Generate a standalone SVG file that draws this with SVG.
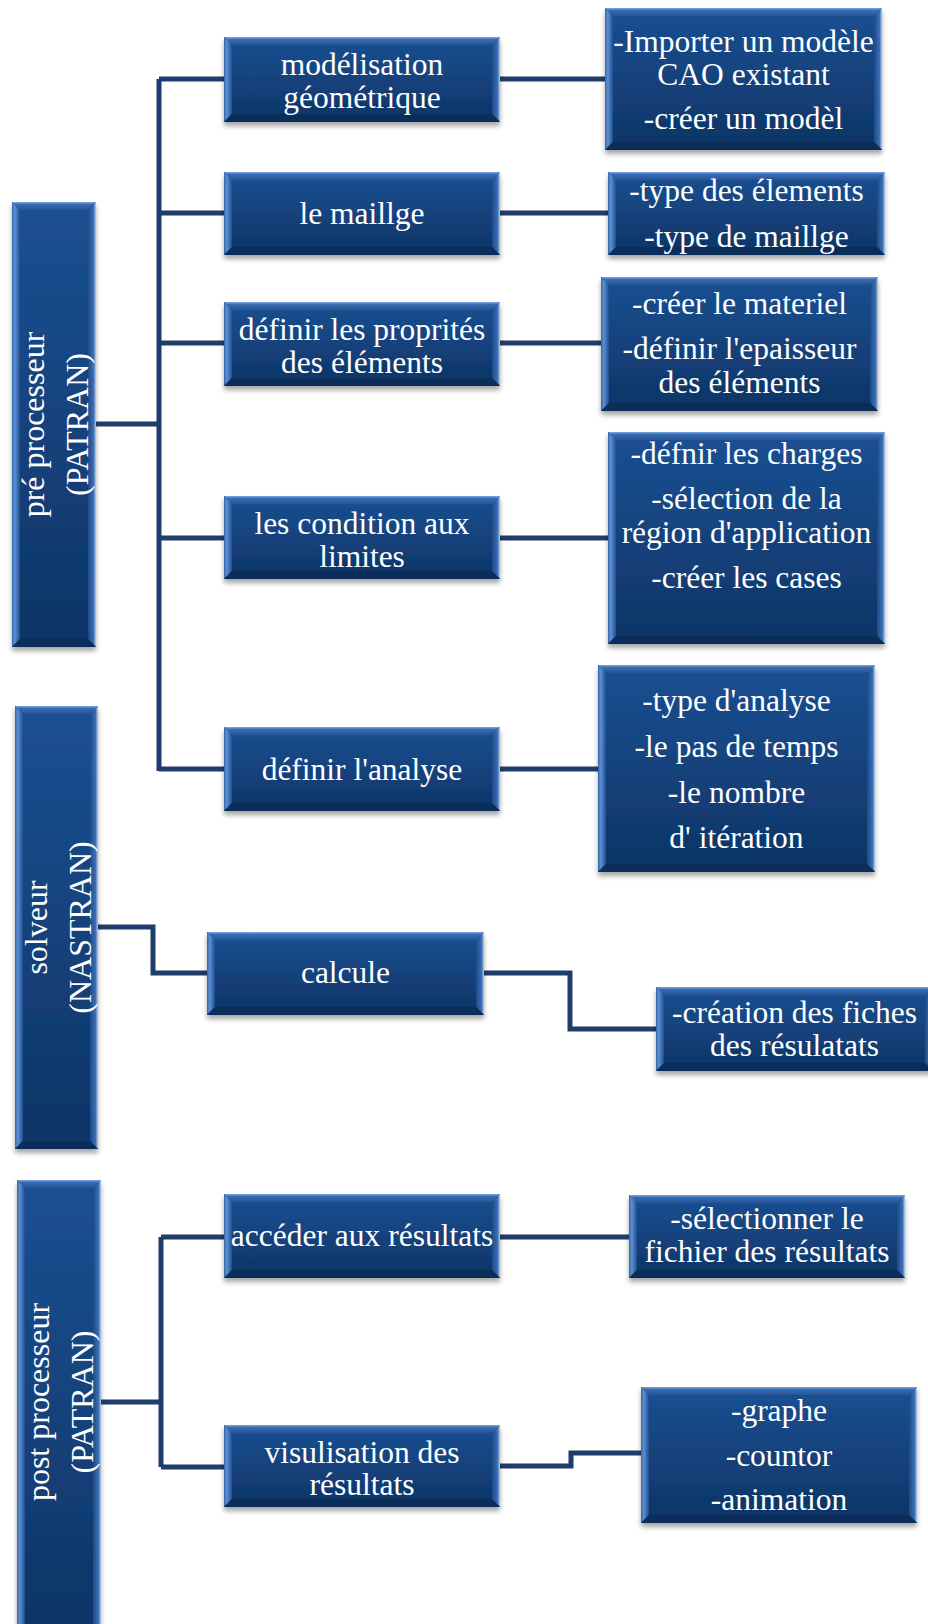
<svg xmlns="http://www.w3.org/2000/svg" width="928" height="1624" viewBox="0 0 928 1624">
<defs>
<linearGradient id="body" x1="0" y1="0" x2="0" y2="1">
<stop offset="0" stop-color="#1b5093"/>
<stop offset="1" stop-color="#0e3465"/>
</linearGradient>
<linearGradient id="bt" x1="0" y1="0" x2="0" y2="1">
<stop offset="0" stop-color="#7eabe6"/>
<stop offset="0.3" stop-color="#3a6cb0"/>
<stop offset="1" stop-color="#235597"/>
</linearGradient>
<linearGradient id="bl" x1="0" y1="0" x2="1" y2="0">
<stop offset="0" stop-color="#3567a8"/>
<stop offset="0.35" stop-color="#5d8fd2"/>
<stop offset="1" stop-color="#1c4e90"/>
</linearGradient>
<linearGradient id="br" x1="1" y1="0" x2="0" y2="0">
<stop offset="0" stop-color="#b4d2f5"/>
<stop offset="0.3" stop-color="#3d6fb2"/>
<stop offset="1" stop-color="#1a4a8a"/>
</linearGradient>
<filter id="sh" x="-10%" y="-10%" width="120%" height="130%">
<feDropShadow dx="0" dy="4" stdDeviation="2.5" flood-color="#000" flood-opacity="0.35"/>
</filter>
</defs>
<style>
.b{fill:url(#body);filter:url(#sh)}
.t{fill:url(#bt)}
.l{fill:url(#bl)}
.r{fill:url(#br)}
.d{fill:#0b2d5a}
text{font-family:"Liberation Serif","Times New Roman",serif;font-size:31.5px;fill:#ffffff;text-anchor:middle}
.v{font-size:32px}
.c{fill:none;stroke:#1f3d6b;stroke-width:5;stroke-linejoin:miter}
</style>
<rect width="928" height="1624" fill="#ffffff"/>

<g id="connectors">
<path class="c" d="M159,79 V771 M159,79 H224 M159,213 H224 M159,343 H224 M159,538 H224 M159,769 H224 M96,424 H159"/>
<path class="c" d="M500,79 H605 M500,213 H608 M500,343 H601 M500,538 H608 M500,769 H598"/>
<path class="c" d="M98,927 H153 V973 H207"/>
<path class="c" d="M484,973 H570 V1029 H656"/>
<path class="c" d="M161,1237 V1467 M161,1237 H224 M161,1467 H224 M101,1402 H161"/>
<path class="c" d="M500,1237 H629"/>
<path class="c" d="M500,1466 H571 V1453 H641"/>
</g>

<g id="pre" transform="translate(12,202)">
<rect class="b" width="84" height="445"/>
<polygon class="t" points="0,0 84,0 76,8 8,8"/><polygon class="l" points="0,0 8,8 8,437 0,445"/><polygon class="r" points="84,0 84,445 76,437 76,8"/><polygon class="d" points="0,445 8,437 76,437 84,445"/>
<text class="v" transform="translate(32,222.5) rotate(-90)">pré processeur</text>
<text class="v" transform="translate(76,222.5) rotate(-90)">(PATRAN)</text>
</g>

<g id="solveur" transform="translate(15,706)">
<rect class="b" width="83" height="443"/>
<polygon class="t" points="0,0 83,0 75,8 8,8"/><polygon class="l" points="0,0 8,8 8,435 0,443"/><polygon class="r" points="83,0 83,443 75,435 75,8"/><polygon class="d" points="0,443 8,435 75,435 83,443"/>
<text class="v" transform="translate(32,221.5) rotate(-90)">solveur</text>
<text class="v" transform="translate(76,221.5) rotate(-90)">(NASTRAN)</text>
</g>

<g id="post" transform="translate(17,1180)">
<rect class="b" width="84" height="460"/>
<polygon class="t" points="0,0 84,0 76,8 8,8"/><polygon class="l" points="0,0 8,8 8,452 0,460"/><polygon class="r" points="84,0 84,460 76,452 76,8"/>
<text class="v" transform="translate(32,222) rotate(-90)">post processeur</text>
<text class="v" transform="translate(76,222) rotate(-90)">(PATRAN)</text>
</g>

<g id="modelisation" transform="translate(224,37)">
<rect class="b" width="276" height="85"/>
<polygon class="t" points="0,0 276,0 268,8 8,8"/><polygon class="l" points="0,0 8,8 8,77 0,85"/><polygon class="r" points="276,0 276,85 268,77 268,8"/><polygon class="d" points="0,85 8,77 268,77 276,85"/>
<text x="138" y="38">modélisation</text>
<text x="138" y="71">géométrique</text>
</g>

<g id="maillage" transform="translate(224,172)">
<rect class="b" width="276" height="83"/>
<polygon class="t" points="0,0 276,0 268,8 8,8"/><polygon class="l" points="0,0 8,8 8,75 0,83"/><polygon class="r" points="276,0 276,83 268,75 268,8"/><polygon class="d" points="0,83 8,75 268,75 276,83"/>
<text x="138" y="52">le maillge</text>
</g>

<g id="proprietes" transform="translate(224,302)">
<rect class="b" width="276" height="84"/>
<polygon class="t" points="0,0 276,0 268,8 8,8"/><polygon class="l" points="0,0 8,8 8,76 0,84"/><polygon class="r" points="276,0 276,84 268,76 268,8"/><polygon class="d" points="0,84 8,76 268,76 276,84"/>
<text x="138" y="38">définir les proprités</text>
<text x="138" y="71">des éléments</text>
</g>

<g id="conditions" transform="translate(224,496)">
<rect class="b" width="276" height="83"/>
<polygon class="t" points="0,0 276,0 268,8 8,8"/><polygon class="l" points="0,0 8,8 8,75 0,83"/><polygon class="r" points="276,0 276,83 268,75 268,8"/><polygon class="d" points="0,83 8,75 268,75 276,83"/>
<text x="138" y="38">les condition aux</text>
<text x="138" y="71">limites</text>
</g>

<g id="analyse" transform="translate(224,727)">
<rect class="b" width="276" height="84"/>
<polygon class="t" points="0,0 276,0 268,8 8,8"/><polygon class="l" points="0,0 8,8 8,76 0,84"/><polygon class="r" points="276,0 276,84 268,76 268,8"/><polygon class="d" points="0,84 8,76 268,76 276,84"/>
<text x="138" y="53">définir l'analyse</text>
</g>

<g id="calcule" transform="translate(207,932)">
<rect class="b" width="277" height="83"/>
<polygon class="t" points="0,0 277,0 269,8 8,8"/><polygon class="l" points="0,0 8,8 8,75 0,83"/><polygon class="r" points="277,0 277,83 269,75 269,8"/><polygon class="d" points="0,83 8,75 269,75 277,83"/>
<text x="138.5" y="51">calcule</text>
</g>

<g id="acceder" transform="translate(224,1194)">
<rect class="b" width="276" height="84"/>
<polygon class="t" points="0,0 276,0 268,8 8,8"/><polygon class="l" points="0,0 8,8 8,76 0,84"/><polygon class="r" points="276,0 276,84 268,76 268,8"/><polygon class="d" points="0,84 8,76 268,76 276,84"/>
<text x="138" y="52">accéder aux résultats</text>
</g>

<g id="visualisation" transform="translate(224,1425)">
<rect class="b" width="276" height="82"/>
<polygon class="t" points="0,0 276,0 268,8 8,8"/><polygon class="l" points="0,0 8,8 8,74 0,82"/><polygon class="r" points="276,0 276,82 268,74 268,8"/><polygon class="d" points="0,82 8,74 268,74 276,82"/>
<text x="138" y="38">visulisation des</text>
<text x="138" y="70">résultats</text>
</g>

<g id="r-modele" transform="translate(605,8)">
<rect class="b" width="277" height="142"/>
<polygon class="t" points="0,0 277,0 269,8 8,8"/><polygon class="l" points="0,0 8,8 8,134 0,142"/><polygon class="r" points="277,0 277,142 269,134 269,8"/><polygon class="d" points="0,142 8,134 269,134 277,142"/>
<text x="138.5" y="44">-Importer un modèle</text>
<text x="138.5" y="77">CAO existant</text>
<text x="138.5" y="121">-créer un modèl</text>
</g>

<g id="r-maillage" transform="translate(608,172)">
<rect class="b" width="277" height="83"/>
<polygon class="t" points="0,0 277,0 269,8 8,8"/><polygon class="l" points="0,0 8,8 8,75 0,83"/><polygon class="r" points="277,0 277,83 269,75 269,8"/><polygon class="d" points="0,83 8,75 269,75 277,83"/>
<text x="138.5" y="29">-type des élements</text>
<text x="138.5" y="75">-type de maillge</text>
</g>

<g id="r-proprietes" transform="translate(601,277)">
<rect class="b" width="277" height="134"/>
<polygon class="t" points="0,0 277,0 269,8 8,8"/><polygon class="l" points="0,0 8,8 8,126 0,134"/><polygon class="r" points="277,0 277,134 269,126 269,8"/><polygon class="d" points="0,134 8,126 269,126 277,134"/>
<text x="138.5" y="37">-créer le materiel</text>
<text x="138.5" y="82">-définir l'epaisseur</text>
<text x="138.5" y="116">des éléments</text>
</g>

<g id="r-conditions" transform="translate(608,432)">
<rect class="b" width="277" height="212"/>
<polygon class="t" points="0,0 277,0 269,8 8,8"/><polygon class="l" points="0,0 8,8 8,204 0,212"/><polygon class="r" points="277,0 277,212 269,204 269,8"/><polygon class="d" points="0,212 8,204 269,204 277,212"/>
<text x="138.5" y="32">-défnir les charges</text>
<text x="138.5" y="77">-sélection de la</text>
<text x="138.5" y="111">région d'application</text>
<text x="138.5" y="156">-créer les cases</text>
</g>

<g id="r-analyse" transform="translate(598,665)">
<rect class="b" width="277" height="207"/>
<polygon class="t" points="0,0 277,0 269,8 8,8"/><polygon class="l" points="0,0 8,8 8,199 0,207"/><polygon class="r" points="277,0 277,207 269,199 269,8"/><polygon class="d" points="0,207 8,199 269,199 277,207"/>
<text x="138.5" y="46">-type d'analyse</text>
<text x="138.5" y="92">-le pas de temps</text>
<text x="138.5" y="138">-le nombre</text>
<text x="138.5" y="183">d' itération</text>
</g>

<g id="r-calcule" transform="translate(656,987)">
<rect class="b" width="277" height="84"/>
<polygon class="t" points="0,0 277,0 269,8 8,8"/><polygon class="l" points="0,0 8,8 8,76 0,84"/><polygon class="r" points="277,0 277,84 269,76 269,8"/><polygon class="d" points="0,84 8,76 269,76 277,84"/>
<text x="138.5" y="36">-création des fiches</text>
<text x="138.5" y="69">des résulatats</text>
</g>

<g id="r-acceder" transform="translate(629,1195)">
<rect class="b" width="276" height="83"/>
<polygon class="t" points="0,0 276,0 268,8 8,8"/><polygon class="l" points="0,0 8,8 8,75 0,83"/><polygon class="r" points="276,0 276,83 268,75 268,8"/><polygon class="d" points="0,83 8,75 268,75 276,83"/>
<text x="138" y="34">-sélectionner le</text>
<text x="138" y="67">fichier des résultats</text>
</g>

<g id="r-visualisation" transform="translate(641,1387)">
<rect class="b" width="276" height="136"/>
<polygon class="t" points="0,0 276,0 268,8 8,8"/><polygon class="l" points="0,0 8,8 8,128 0,136"/><polygon class="r" points="276,0 276,136 268,128 268,8"/><polygon class="d" points="0,136 8,128 268,128 276,136"/>
<text x="138" y="34">-graphe</text>
<text x="138" y="79">-countor</text>
<text x="138" y="123">-animation</text>
</g>
</svg>
